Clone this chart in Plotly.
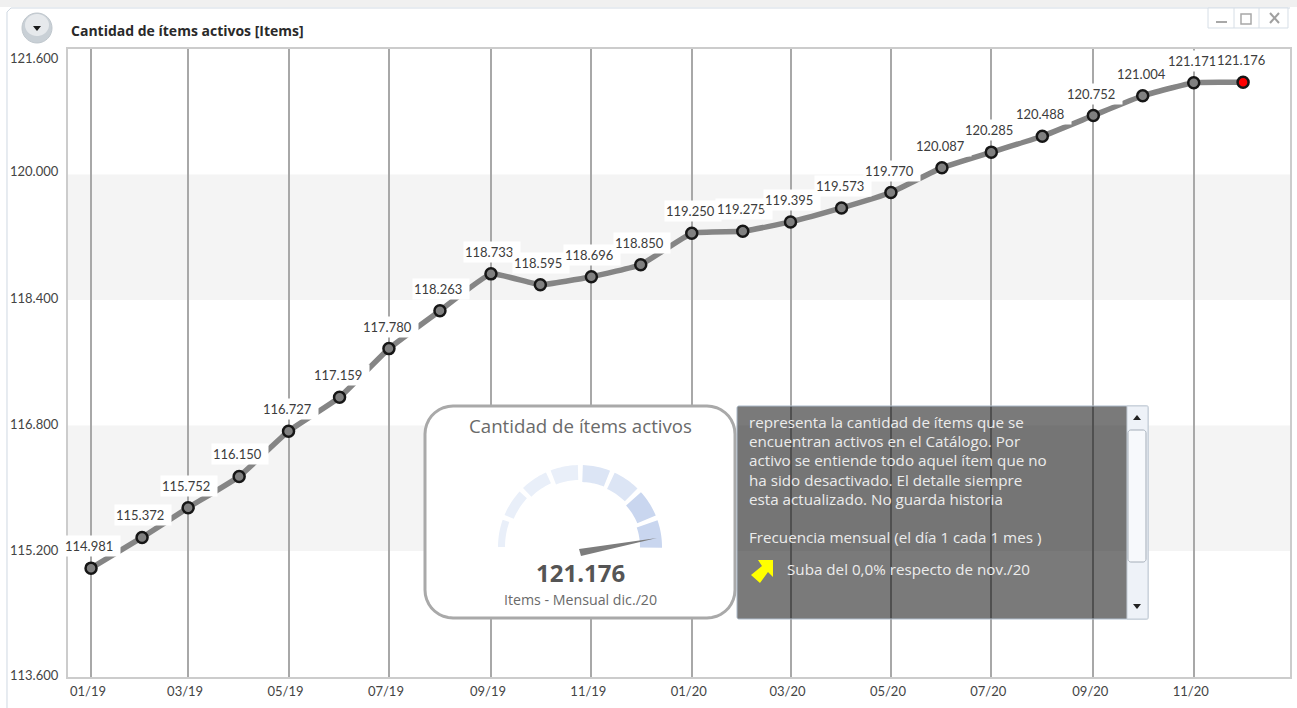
import numpy as np
import plotly.graph_objects as go

W, H = 1297, 708
L, R, T, B = 68, 1290, 49, 677
FONT = "Lato"
FONT2 = "Open Sans"

months = ["2019-%02d-01" % m for m in range(1, 13)] + ["2020-%02d-01" % m for m in range(1, 13)]
items = [114981, 115372, 115752, 116150, 116727, 117159, 117780, 118263, 118733, 118595, 118696, 118850,
         119250, 119275, 119395, 119573, 119770, 120087, 120285, 120488, 120752, 121004, 121171, 121176]
y_ticks = [113600, 115200, 116800, 118400, 120000, 121600]
y_tick_shift = [1.5, 1, 1.5, 2, 3, -9]
bands = [(115200, 116800), (118400, 120000)]
x_range = ["2018-12-18", "2020-12-29 12:00"]
y_range = [113593, 121600]
desc_lines = ["representa la cantidad de ítems que se",
              "encuentran activos en el Catálogo. Por",
              "activo se entiende todo aquel ítem que no",
              "ha sido desactivado. El detalle siempre",
              "esta actualizado. No guarda historia",
              "",
              "Frecuencia mensual (el día 1 cada 1 mes )"]
gauge_colors = ["#e9eff9", "#e9eff9", "#e9eff9", "#e9eff9", "#dce5f5", "#dce5f5", "#c9d6ef", "#c9d6ef"]
gauge_widths = [7, 10, 12, 15, 17, 18, 20, 22]


def fmt(v):
    return f"{v:,}".replace(",", ".")


# Paper coordinates here are relative to the plot area, so convert from page pixels.
def ax(x):
    return (x - L) / (R - L)


def ay(y):
    return (B - y) / (B - T)


def poly(points, close=True):
    d = "M " + " L ".join(f"{ax(x):.5f},{ay(y):.5f}" for x, y in points)
    return d + (" Z" if close else "")


def rrect(x0, y0, x1, y1, r):
    pts = []
    for cx, cy, a0 in [(x1 - r, y0 + r, -90), (x1 - r, y1 - r, 0), (x0 + r, y1 - r, 90), (x0 + r, y0 + r, 180)]:
        for a in np.radians(np.linspace(a0, a0 + 90, 10)):
            pts.append((cx + r * np.cos(a), cy + r * np.sin(a)))
    return poly(pts)


shapes, notes = [], []


def shape_path(points_path, fill, line=None, lw=1):
    shapes.append(dict(type="path", xref="paper", yref="paper", path=points_path, fillcolor=fill,
                       line=dict(color=line or "rgba(0,0,0,0)", width=lw if line else 0), layer="above"))


def seg(x0, y0, x1, y1, color, w=1):
    shapes.append(dict(type="line", xref="paper", yref="paper", x0=ax(x0), y0=ay(y0), x1=ax(x1), y1=ay(y1),
                       line=dict(color=color, width=w), layer="above"))


def label(x, y, text, size=12, color="#444", anchor="center", family=FONT2):
    notes.append(dict(xref="paper", yref="paper", x=ax(x), y=ay(y), text=text, showarrow=False, xanchor=anchor,
                      yanchor="middle", font=dict(family=family, size=size, color=color)))


fig = go.Figure()
fig.add_trace(go.Scatter(
    x=months, y=items, mode="lines+markers", hoverinfo="skip",
    line=dict(color="#858585", width=5.5, shape="spline", smoothing=0.35),
    marker=dict(size=11, color=["#808080"] * (len(items) - 1) + ["#ff0000"], line=dict(color="#161616", width=2.5)),
))

for lo, hi in bands:
    shapes.append(dict(type="rect", xref="paper", yref="y", x0=0, x1=1, y0=lo, y1=hi,
                       fillcolor="#f4f4f4", line=dict(width=0), layer="below"))

for m, v in zip(months, items):
    notes.append(dict(x=m, y=v, xref="x", yref="y", text=fmt(v), showarrow=False, yshift=22, xshift=1, bgcolor="#ffffff",
                      width=54, height=18, align="left", borderpad=1, font=dict(family=FONT, size=13, color="#3c3c3c")))

for v, s in zip(y_ticks, y_tick_shift):
    notes.append(dict(xref="paper", yref="y", x=ax(61), y=v, yshift=s, text=fmt(v), showarrow=False, xanchor="right",
                      font=dict(family=FONT, size=13, color="#444")))

# window chrome
shape_path(poly([(0, 0), (W, 0), (W, 7), (0, 7)]), "#f0f0f0")
shape_path(poly([(7, 708), (7, 12), (11, 8), (1290, 8)], close=False), "rgba(0,0,0,0)", "#cfd8e2", 1)
shape_path(poly([(1208, 8), (1288, 8), (1288, 28), (1208, 28)]), "#ffffff", "#d6dee6", 1)
seg(1234, 8, 1234, 28, "#d6dee6")
seg(1259, 8, 1259, 28, "#d6dee6")
seg(1216, 22, 1227, 22, "#a8a8a8", 2)
shape_path(poly([(1241, 14), (1251, 14), (1251, 24), (1241, 24)]), "#ffffff", "#a8a8a8", 1.5)
seg(1270, 13, 1279, 23, "#a0a0a0", 2)
seg(1279, 13, 1270, 23, "#a0a0a0", 2)
th = np.linspace(0, 2 * np.pi, 40)
shape_path(poly([(37 + 15 * np.cos(t), 28 + 15 * np.sin(t)) for t in th]), "#c9d0d6", "#c0c7cd", 1)
shape_path(poly([(37 + 12 * np.cos(t), 25 + 11 * np.sin(t)) for t in th]), "#e6e9ec")
shape_path(poly([(33, 26), (41, 26), (37, 31)]), "#1a1a1a")
label(69, 30, "<b>Cantidad de ítems activos [Items]</b>", size=14, color="#2a2a2a", anchor="left")

# gauge card
shape_path(rrect(425, 406, 735, 618, 28), "#ffffff", "#a9a9a9", 3)
label(580, 426, "Cantidad de ítems activos", size=18.7, color="#6a6a6a")
cx, cy, r1 = 580, 547, 82
for i, (c, w) in enumerate(zip(gauge_colors, gauge_widths)):
    a0, a1 = 180 - i * 23, 180 - i * 23 - 19.5
    aa = np.radians(np.linspace(a0, a1, 12))
    outer = [(cx + r1 * np.cos(a), cy - r1 * np.sin(a)) for a in aa]
    inner = [(cx + (r1 - w) * np.cos(a), cy - (r1 - w) * np.sin(a)) for a in aa[::-1]]
    shape_path(poly(outer + inner), c)
shape_path(poly([(579, 549), (657, 538), (581, 556)]), "#7d7d7d")
label(580, 572, "<b>121.176</b>", size=24, color="#555")
label(580, 599, "Items - Mensual dic./20", size=14.2, color="#6a6a6a")

# description panel
shape_path(rrect(737, 406, 1148, 619, 2), "rgba(0,0,0,0.52)", "#aebccb", 1)
shape_path(poly([(1127, 406), (1148, 406), (1148, 619), (1127, 619)]), "#eef2f8", "#c3ccd6", 1)
shape_path(rrect(1128, 430, 1146, 562, 3), "#f7f9fc", "#a4adb8", 1)
shape_path(poly([(1133, 420), (1141, 420), (1137, 415)]), "#222")
shape_path(poly([(1133, 604), (1141, 604), (1137, 609)]), "#222")
for i, line_text in enumerate(desc_lines):
    if line_text:
        label(747, 422 + i * 19.2, line_text, size=15.2, color="#ececec", anchor="left")
label(785, 569, "Suba del 0,0% respecto de nov./20", size=15.2, color="#ececec", anchor="left")
shape_path(poly([(758, 560), (773, 560), (773, 577), (768, 572), (760, 583), (751, 575), (762, 566)]), "#ffff00")

fig.update_layout(
    width=W, height=H, autosize=False,
    margin=dict(l=L, r=W - R - 2, t=T, b=H - B, pad=0),
    paper_bgcolor="#ffffff", plot_bgcolor="#ffffff", showlegend=False,
    font=dict(family=FONT, size=13, color="#444"),
    shapes=shapes, annotations=notes,
    xaxis=dict(type="date", range=x_range, tick0=months[0], dtick="M2", tickformat="%m/%y",
               ticks="outside", ticklen=2, tickcolor="#ffffff", ticklabelshift=-3,
               showgrid=True, gridcolor="#a8a8a8", gridwidth=1.5, showline=True, linecolor="#cccccc", linewidth=1.5,
               mirror=True, zeroline=False, tickfont=dict(family=FONT, size=13, color="#444")),
    yaxis=dict(range=y_range, tickvals=y_ticks, showticklabels=False, ticks="", showgrid=False,
               showline=True, linecolor="#cccccc", linewidth=1.5, mirror=True, zeroline=False),
)
fig.write_html("out.html", config=dict(displayModeBar=False),
               post_script="document.body.style.margin='0';document.body.style.overflow='hidden';"
                           "document.documentElement.style.overflow='hidden';")
